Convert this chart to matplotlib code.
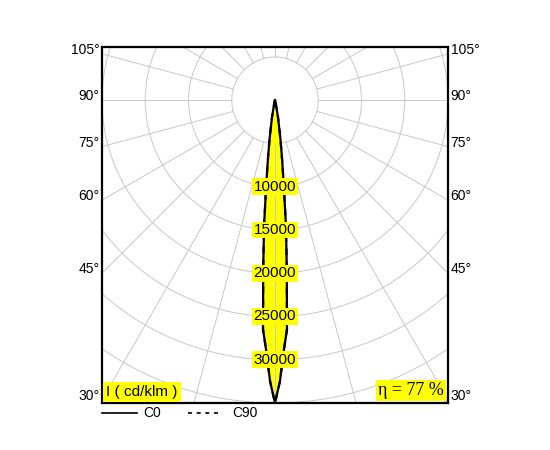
import numpy as np
import matplotlib
matplotlib.use('Agg')
import matplotlib.pyplot as plt
from matplotlib.patches import Circle

# Light intensity data (cd/klm) versus angle from nadir (degrees)
angles = [0, 1, 2, 3, 4, 5, 6, 7, 8, 10, 15, 20, 30, 90]
c0_values = [35000, 32500, 29000, 26500, 19500, 14500, 9500, 6500, 4500, 2000, 300, 100, 0, 0]
c90_values = [35000, 32500, 29000, 26500, 19500, 14500, 9500, 6500, 4500, 2000, 300, 100, 0, 0]

ring_values = [5000, 10000, 15000, 20000, 25000, 30000, 35000, 40000, 45000]
ring_labels = [10000, 15000, 20000, 25000, 30000]
angle_ticks = [105, 90, 75, 60, 45, 30]
efficiency = 77

plt.rcParams['font.family'] = ['Liberation Sans', 'DejaVu Sans']

fig = plt.figure(figsize=(5.5, 4.5), dpi=100)
ax = fig.add_axes([102 / 550, 1 - 403 / 450, 346 / 550, 356 / 450])

xmax = 20000
ymin = -35000
ymax = ymin + 40000 * 356 / 346
ax.set_xlim(-xmax, xmax)
ax.set_ylim(ymin, ymax)

grid_col = '#c8c8c8'

# kreisförmiges Raster
for r in ring_values:
    ax.add_patch(Circle((0, 0), r, fill=False, ec=grid_col, lw=0.7, zorder=1))

# Strahlen alle 15°
for a in range(0, 360, 15):
    t = np.radians(a)
    ax.plot([5000 * np.sin(t), 60000 * np.sin(t)],
            [-5000 * np.cos(t), -60000 * np.cos(t)],
            color=grid_col, lw=0.7, zorder=1)


def to_xy(ang, vals):
    ang = np.array(ang, dtype=float)
    vals = np.array(vals, dtype=float)
    full_a = np.concatenate([-ang[::-1], ang[1:]])
    full_v = np.concatenate([vals[::-1], vals[1:]])
    t = np.radians(full_a)
    return full_v * np.sin(t), -full_v * np.cos(t)


x0, y0 = to_xy(angles, c0_values)
x90, y90 = to_xy(angles, c90_values)

ax.fill(x0, y0, color='#ffff00', zorder=2)
ax.plot([0, 0], [-5000, ymin], color=grid_col, lw=0.7, zorder=3)
ax.plot(x0, y0, color='black', lw=1.6, zorder=4)
ax.plot(x90, y90, color='black', lw=1.6, ls=(0, (3, 3)), zorder=4)

# Beschriftungen der Ringe
for r in ring_labels:
    ax.text(0, -r, str(r), ha='center', va='center', fontsize=11, zorder=5,
            bbox=dict(facecolor='#ffff00', edgecolor='none', pad=1.0))

# Winkelbeschriftungen
for a in angle_ticks:
    yy = -xmax / np.tan(np.radians(a)) + 450
    ax.text(-xmax - 300, yy, f'{a}°', ha='right', va='center', fontsize=10, clip_on=False)
    ax.text(xmax + 300, yy, f'{a}°', ha='left', va='center', fontsize=10, clip_on=False)

ax.text(0.012, 0.012, 'I ( cd/klm )', transform=ax.transAxes, ha='left', va='bottom',
        fontsize=11, zorder=6, bbox=dict(facecolor='#ffff00', edgecolor='none', pad=2.2))
ax.text(0.988, 0.012, f'η = {efficiency} %', transform=ax.transAxes, ha='right', va='bottom',
        fontsize=13, family=['Liberation Serif', 'DejaVu Serif'], zorder=6,
        bbox=dict(facecolor='#ffff00', edgecolor='none', pad=1.5))

for s in ax.spines.values():
    s.set_linewidth(1.6)
ax.set_xticks([])
ax.set_yticks([])

# Legende unten
fig.lines.append(plt.Line2D([102 / 550, 137 / 550], [1 - 413 / 450] * 2, color='black', lw=1.2,
                            transform=fig.transFigure))
fig.text(143 / 550, 1 - 413 / 450, 'C0', ha='left', va='center', fontsize=10)
fig.lines.append(plt.Line2D([188 / 550, 218 / 550], [1 - 413 / 450] * 2, color='black', lw=1.2,
                            ls=(0, (2.4, 2.8)), transform=fig.transFigure))
fig.text(232 / 550, 1 - 413 / 450, 'C90', ha='left', va='center', fontsize=10)

fig.savefig('out.png', dpi=100)
